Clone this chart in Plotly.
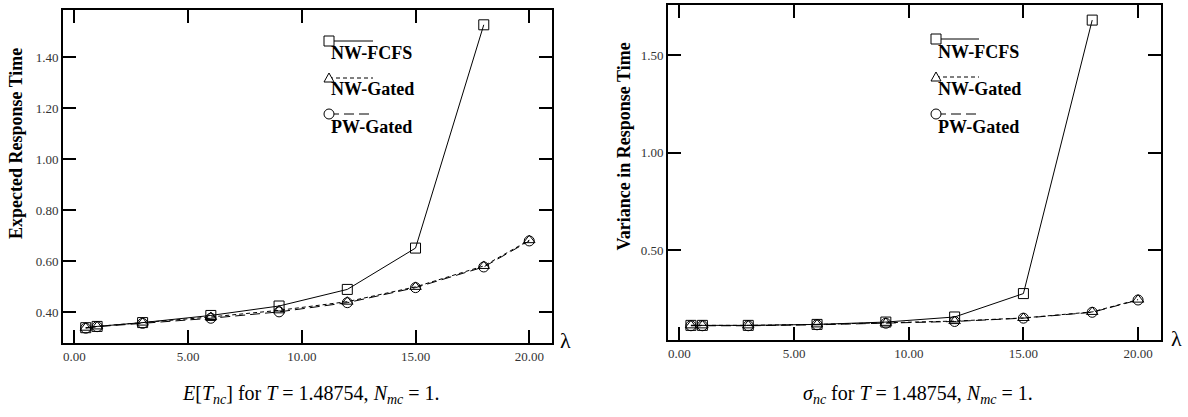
import plotly.graph_objects as go

# ---- data ----
lam_all = [0.5, 1, 3, 6, 9, 12, 15, 18, 20]
lam_fcfs = [0.5, 1, 3, 6, 9, 12, 15, 18]

mean_nw_fcfs = [0.340, 0.345, 0.360, 0.388, 0.425, 0.490, 0.652, 1.527]
mean_nw_gated = [0.340, 0.345, 0.360, 0.382, 0.408, 0.442, 0.500, 0.582, 0.683]
mean_pw_gated = [0.338, 0.344, 0.357, 0.377, 0.402, 0.438, 0.497, 0.578, 0.680]

var_nw_fcfs = [0.115, 0.115, 0.115, 0.120, 0.132, 0.158, 0.278, 1.680]
var_nw_gated = [0.115, 0.115, 0.115, 0.120, 0.128, 0.137, 0.153, 0.184, 0.247]
var_pw_gated = [0.113, 0.113, 0.113, 0.118, 0.126, 0.135, 0.152, 0.182, 0.245]

series_names = ["NW-FCFS", "NW-Gated", "PW-Gated"]
y_titles = ["Expected Response Time", "Variance in Response Time"]
captions = [
    "<i>E</i>[<i>T</i><sub><i>nc</i></sub>] for <i>T</i> = 1.48754, <i>N</i><sub><i>mc</i></sub> = 1.",
    "<i>σ</i><sub><i>nc</i></sub> for <i>T</i> = 1.48754, <i>N</i><sub><i>mc</i></sub> = 1.",
]

SERIF = "Liberation Serif, Times New Roman, serif"
W, H = 1188, 417

styles = [
    dict(symbol="square-open", dash="solid"),
    dict(symbol="triangle-up-open", dash="4px,3px"),
    dict(symbol="circle-open", dash="10px,5px"),
]

fig = go.Figure()

panels = [
    dict(xa="x", ya="y", data=[(lam_fcfs, mean_nw_fcfs), (lam_all, mean_nw_gated), (lam_all, mean_pw_gated)]),
    dict(xa="x2", ya="y2", data=[(lam_fcfs, var_nw_fcfs), (lam_all, var_nw_gated), (lam_all, var_pw_gated)]),
]

for p in panels:
    for (xs, ys), st, nm in zip(p["data"], styles, series_names):
        fig.add_trace(go.Scatter(
            x=xs, y=ys, mode="lines+markers", name=nm, showlegend=False,
            xaxis=p["xa"], yaxis=p["ya"],
            line=dict(color="black", width=1, dash=st["dash"]),
            marker=dict(symbol=st["symbol"], size=10, color="black", line=dict(width=1, color="black")),
        ))

# pixel geometry of plot areas
dom_left = dict(x=(63, 552), y=(10, 343))
dom_right = dict(x=(668, 1161), y=(4.5, 340))

def xd(px):
    return (px[0] / W, px[1] / W)

def yd(py):
    return (1 - py[1] / H, 1 - py[0] / H)

axis_common = dict(
    showgrid=False, zeroline=False, ticks="inside", ticklen=13, tickwidth=1.5,
    tickcolor="black", showline=True, linecolor="black", linewidth=2, mirror="ticks",
    tickfont=dict(family=SERIF, size=13, color="#333333"),
)

fig.update_layout(
    width=W, height=H, margin=dict(l=0, r=0, t=0, b=0),
    paper_bgcolor="white", plot_bgcolor="white",
    xaxis=dict(domain=xd(dom_left["x"]), range=[-0.5, 21], dtick=5, tick0=0, tickformat=".2f",
               anchor="y", **axis_common),
    yaxis=dict(domain=yd(dom_left["y"]), range=[0.28, 1.585], dtick=0.2, tick0=0, tickformat=".2f",
               anchor="x", **axis_common),
    xaxis2=dict(domain=xd(dom_right["x"]), range=[-0.5, 21], dtick=5, tick0=0, tickformat=".2f",
                anchor="y2", **axis_common),
    yaxis2=dict(domain=yd(dom_right["y"]), range=[0.04, 1.76], dtick=0.5, tick0=0, tickformat=".2f",
                anchor="x2", **axis_common),
)

# y-axis titles (placed as rotated annotations)
for (xp, yp), t in zip([(15.5, 143.5), (623.5, 147)], y_titles):
    fig.add_annotation(xref="paper", yref="paper", x=xp / W, y=1 - yp / H, xanchor="center", yanchor="middle",
                       showarrow=False, textangle=-90, text="<b>" + t + "</b>",
                       font=dict(family=SERIF, size=18, color="black"))

# legends (custom, drawn inside each panel)
legend_specs = [
    dict(xref="x domain", yref="y domain", dom=dom_left, mx=329, line_end=373, marker_y=[41, 78, 114], text_y=[53, 89, 127]),
    dict(xref="x2 domain", yref="y2 domain", dom=dom_right, mx=936, line_end=979, marker_y=[39, 77, 114], text_y=[52, 89, 127]),
]

for spec in legend_specs:
    x0p, x1p = spec["dom"]["x"]
    y0p, y1p = spec["dom"]["y"]
    fx = lambda px: (px - x0p) / (x1p - x0p)
    fy = lambda py: (y1p - py) / (y1p - y0p)
    for i, (st, nm) in enumerate(zip(styles, series_names)):
        my = fy(spec["marker_y"][i])
        fig.add_shape(type="line", xref=spec["xref"], yref=spec["yref"],
                      x0=fx(spec["mx"]), x1=fx(spec["line_end"]), y0=my, y1=my,
                      line=dict(color="black", width=1, dash=st["dash"]))
        common = dict(xref=spec["xref"], yref=spec["yref"], xsizemode="pixel", ysizemode="pixel",
                      xanchor=fx(spec["mx"]), yanchor=my, line=dict(color="black", width=1),
                      fillcolor="white")
        if i == 0:
            fig.add_shape(type="rect", x0=-5, x1=5, y0=-5, y1=5, **common)
        elif i == 1:
            fig.add_shape(type="path", path="M -5,-4 L 5,-4 L 0,5 Z", **common)
        else:
            fig.add_shape(type="circle", x0=-5, x1=5, y0=-5, y1=5, **common)
        fig.add_annotation(xref=spec["xref"], yref=spec["yref"], x=fx(spec["mx"]), y=fy(spec["text_y"][i]),
                           xanchor="left", yanchor="middle", showarrow=False,
                           text="<b>" + nm + "</b>", font=dict(family=SERIF, size=18, color="black"))

# lambda labels
for xp, yp in [(565, 340), (1176, 338)]:
    fig.add_annotation(xref="paper", yref="paper", x=xp / W, y=1 - yp / H, xanchor="center", yanchor="middle",
                       showarrow=False, text="λ", font=dict(family=SERIF, size=22, color="black"))

# captions
for xp, cap in zip([311, 918], captions):
    fig.add_annotation(xref="paper", yref="paper", x=xp / W, y=1 - 394 / H, xanchor="center", yanchor="middle",
                       showarrow=False, text=cap, font=dict(family=SERIF, size=20, color="black"))

fig.write_html("out.html")
